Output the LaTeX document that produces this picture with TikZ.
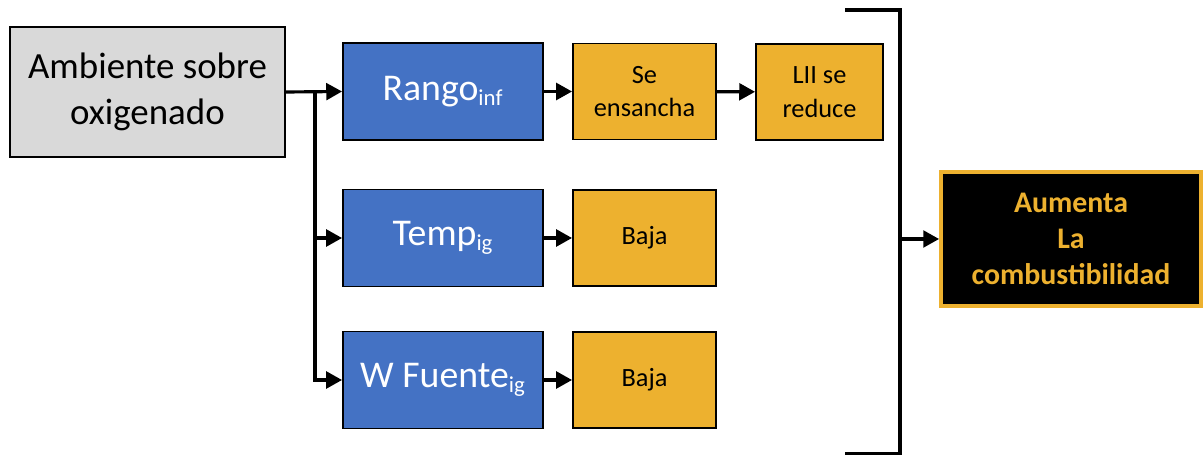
\documentclass[tikz,border=0pt]{standalone}
\usepackage{fontspec}
\setmainfont{Carlito}
\usetikzlibrary{arrows.meta}
\definecolor{cajaazul}{HTML}{4472C4}
\definecolor{cajaoro}{HTML}{EDB12F}
\definecolor{cajagris}{HTML}{D9D9D9}
\newcommand{\subi}[1]{\textsubscript{\fontsize{13}{13}\selectfont #1}}
\begin{document}
\begin{tikzpicture}[x=0.02cm, y=-0.02cm,
    caja/.style={draw=black, line width=1.1pt, align=center, inner sep=2pt},
    azul/.style={caja, fill=cajaazul, text=white, font=\fontsize{21.5}{25}\selectfont,
                 minimum width=4cm, minimum height=1.94cm},
    oro/.style={caja, fill=cajaoro, font=\fontsize{15}{19}\selectfont, minimum height=1.92cm},
    flecha/.style={line width=1.8pt, -{Triangle[length=9pt, width=9.5pt]}}]
  \useasboundingbox (0,0) rectangle (1203,455);
  \node[caja, fill=cajagris, font=\fontsize{21}{26}\selectfont,
        minimum width=5.5cm, minimum height=2.6cm] (amb) at (147.5,92) {Ambiente sobre\\oxigenado};
  \node[azul] (rango) at (443,91.5) {Rango\subi{inf}};
  \node[azul] (temp) at (443,238) {Temp\subi{ig}};
  \node[azul] (wfu) at (443,380) {W Fuente\subi{ig}};
  \node[oro, minimum width=2.86cm] (ens) at (644.5,91.5) {Se\\ensancha};
  \node[oro, minimum width=2.54cm] (lii) at (819.5,92) {LII se\\reduce};
  \node[oro, minimum width=2.86cm] (baja1) at (644.5,238) {Baja};
  \node[oro, minimum width=2.86cm] (baja2) at (644.5,380) {Baja};
  \node[draw=cajaoro, line width=2.2pt, fill=black, text=cajaoro, align=center,
        font=\bfseries\fontsize{17}{20.7}\selectfont,
        minimum width=5.2cm, minimum height=2.68cm] (aum) at (1071,239)
        {Aumenta\\La\\combustibilidad};
  % ramas
  \coordinate (rama) at (315,92);
  \draw[flecha] (amb.east) -- (rango.west);
  \draw[line width=1.8pt] (rama) -- (315,380);
  \draw[flecha] (rama) |- (temp.west);
  \draw[flecha] (rama) |- (wfu.west);
  \draw[flecha] (rango) -- (ens);
  \draw[flecha] (ens) -- (lii);
  \draw[flecha] (temp) -- (baja1);
  \draw[flecha] (wfu) -- (baja2);
  % corchete
  \draw[line width=1.8pt] (845,10) -- (900,10) -- (900,454) -- (845,454);
  \coordinate (cierre) at (900,239);
  \draw[flecha] (cierre) -- (aum.west);
\end{tikzpicture}
\end{document}
